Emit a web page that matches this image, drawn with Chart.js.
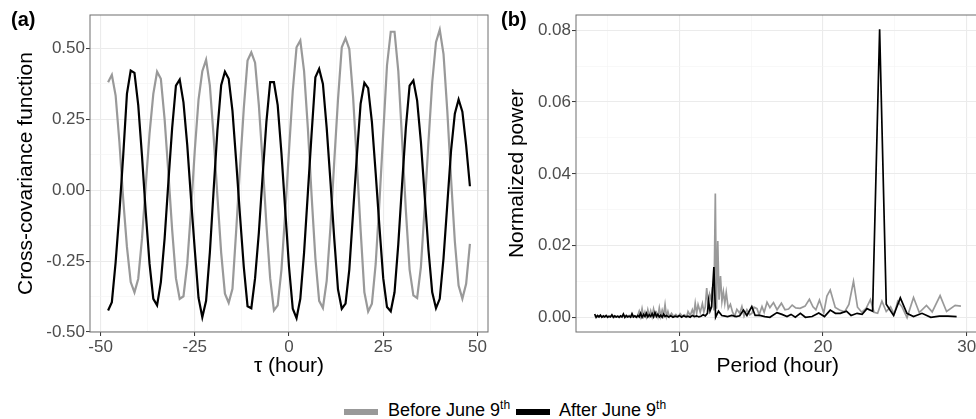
<!DOCTYPE html>
<html>
<head>
<meta charset="utf-8">
<script src="https://cdn.jsdelivr.net/npm/chart.js@4.4.0/dist/chart.umd.min.js"></script>
<style>
  html, body { margin: 0; padding: 0; background: #fff; }
  body { position: relative; width: 976px; height: 419px; overflow: hidden; font-family: "Liberation Sans", Arial, sans-serif; }
  #ccf { position: absolute; left: 0; top: 0; }
  #psd { position: absolute; left: 490px; top: 0; }
  .tag { position: absolute; top: 9px; font-size: 20px; line-height: 20px; font-weight: bold; color: #000; }
  .key { position: absolute; top: 409px; width: 34px; height: 6px; }
  .lab { position: absolute; top: 400px; font-size: 18px; line-height: 20px; color: #000; white-space: nowrap; }
  .lab sup { font-size: 12px; vertical-align: baseline; position: relative; top: -7px; }
</style>
</head>
<body>
<canvas id="ccf" width="490" height="385"></canvas>
<canvas id="psd" width="492" height="385"></canvas>
<div class="tag" style="left:11px">(a)</div>
<div class="tag" style="left:501px">(b)</div>
<div class="key" style="left:344px; background:#999999"></div>
<div class="lab" style="left:388px">Before June 9<sup>th</sup></div>
<div class="key" style="left:516px; background:#000000"></div>
<div class="lab" style="left:559px">After June 9<sup>th</sup></div>

<script>
// --- panel (a): cross-covariance vs lag ---
const lags = [-48, -47, -46, -45, -44, -43, -42, -41, -40, -39, -38, -37, -36, -35, -34, -33, -32, -31, -30, -29,
  -28, -27, -26, -25, -24, -23, -22, -21, -20, -19, -18, -17, -16, -15, -14, -13, -12, -11, -10, -9,
  -8, -7, -6, -5, -4, -3, -2, -1, 0, 1, 2, 3, 4, 5, 6, 7, 8, 9, 10, 11,
  12, 13, 14, 15, 16, 17, 18, 19, 20, 21, 22, 23, 24, 25, 26, 27, 28, 29, 30, 31,
  32, 33, 34, 35, 36, 37, 38, 39, 40, 41, 42, 43, 44, 45, 46, 47, 48];

const ccfBefore = [0.381, 0.407, 0.334, 0.170, -0.030, -0.200, -0.324, -0.360, -0.312, -0.170, 0.020, 0.200, 0.340, 0.418, 0.393, 0.250, 0.060, -0.140, -0.310, -0.383,
  -0.374, -0.260, -0.070, 0.140, 0.320, 0.420, 0.460, 0.370, 0.190, -0.020, -0.220, -0.365, -0.397, -0.348, -0.140, 0.080, 0.288, 0.457, 0.486, 0.450,
  0.300, 0.100, -0.120, -0.310, -0.424, -0.406, -0.280, -0.080, 0.140, 0.350, 0.504, 0.528, 0.420, 0.220, -0.020, -0.240, -0.390, -0.415, -0.320, -0.130,
  0.100, 0.320, 0.504, 0.536, 0.498, 0.330, 0.100, -0.140, -0.360, -0.428, -0.400, -0.260, -0.040, 0.200, 0.440, 0.559, 0.559, 0.420, 0.180, -0.070,
  -0.280, -0.371, -0.380, -0.270, -0.060, 0.170, 0.380, 0.522, 0.566, 0.480, 0.280, 0.040, -0.180, -0.336, -0.383, -0.330, -0.189];

const ccfAfter = [-0.424, -0.395, -0.254, -0.080, 0.120, 0.340, 0.422, 0.414, 0.300, 0.120, -0.080, -0.260, -0.383, -0.406, -0.324, -0.170, 0.030, 0.220, 0.369, 0.390,
  0.310, 0.160, -0.030, -0.210, -0.380, -0.448, -0.390, -0.220, 0.000, 0.210, 0.370, 0.418, 0.393, 0.280, 0.100, -0.090, -0.270, -0.409, -0.416, -0.310,
  -0.150, 0.050, 0.240, 0.381, 0.381, 0.300, 0.130, -0.070, -0.270, -0.418, -0.451, -0.383, -0.220, -0.010, 0.200, 0.398, 0.428, 0.375, 0.220, 0.030,
  -0.170, -0.350, -0.418, -0.400, -0.280, -0.080, 0.120, 0.305, 0.379, 0.360, 0.240, 0.060, -0.130, -0.310, -0.412, -0.427, -0.360, -0.190, 0.020, 0.220,
  0.369, 0.387, 0.316, 0.170, -0.020, -0.210, -0.360, -0.416, -0.383, -0.240, -0.050, 0.140, 0.270, 0.320, 0.277, 0.158, 0.014];

// --- panel (b): normalized power vs period ---
const periodBefore = [4.1, 4.3, 4.5, 4.7, 4.9, 5.1, 5.3, 5.5, 5.7, 5.9, 6.1, 6.3, 6.5, 6.7, 6.9, 7.05, 7.2, 7.3, 7.4, 7.5,
  7.6, 7.7, 7.8, 7.9, 8.0, 8.1, 8.2, 8.3, 8.4, 8.5, 8.6, 8.7, 8.8, 8.9, 9.0, 9.1, 9.2, 9.3, 9.45, 9.6,
  9.75, 9.9, 10.05, 10.2, 10.35, 10.5, 10.6, 10.75, 10.9, 11.0, 11.1, 11.2, 11.3, 11.45, 11.6, 11.7, 11.8, 11.9, 12.0, 12.1,
  12.2, 12.3, 12.4, 12.5, 12.58, 12.67, 12.76, 12.86, 12.96, 13.06, 13.16, 13.26, 13.4, 13.55, 13.7, 13.85, 14.0, 14.2, 14.35, 14.5,
  14.7, 14.9, 15.05, 15.2, 15.4, 15.55, 15.75, 15.9, 16.1, 16.3, 16.55, 16.8, 17.1, 17.35, 17.6, 17.85, 18.1, 18.4, 18.75, 19.05,
  19.3, 19.5, 19.75, 20.05, 20.27, 20.5, 20.85, 21.15, 21.5, 21.8, 22.12, 22.4, 22.7, 23.0, 23.3, 23.55, 23.8, 24.1, 24.4, 24.7,
  24.95, 25.2, 25.5, 25.85, 26.3, 26.7, 27.2, 27.6, 28.15, 28.6, 29.2, 29.6];

const powerBefore = [0.0004, 0.0002, 0.0005, 0.0001, 0.0004, 0.0002, 0.0006, 0.0001, 0.0004, 0.0002, 0.0005, 0.0001, 0.0006, 0.0002, 0.0004, 0.0001, 0.0018, 0.0003, 0.0025, 0.0004,
  0.0016, 0.0002, 0.0022, 0.0005, 0.0019, 0.0003, 0.0024, 0.0006, 0.0014, 0.0002, 0.0027, 0.0004, 0.0021, 0.0007, 0.0036, 0.0003, 0.0017, 0.0002, 0.0012, 0.0003,
  0.0009, 0.0002, 0.0011, 0.0004, 0.0008, 0.0002, 0.0017, 0.0006, 0.0022, 0.0008, 0.0040, 0.0012, 0.0036, 0.0015, 0.0039, 0.0016, 0.0030, 0.0082, 0.0035, 0.0065,
  0.0050, 0.0085, 0.0020, 0.0345, 0.0025, 0.0213, 0.0050, 0.0116, 0.0045, 0.0072, 0.0040, 0.0070, 0.0025, 0.0037, 0.0015, 0.0004, 0.0023, 0.0012, 0.0031, 0.0004,
  0.0022, 0.0008, 0.0012, 0.0029, 0.0025, 0.0008, 0.0031, 0.0015, 0.0043, 0.0028, 0.0042, 0.0022, 0.0040, 0.0022, 0.0024, 0.0035, 0.0027, 0.0026, 0.0032, 0.0051,
  0.0030, 0.0022, 0.0049, 0.0013, 0.0060, 0.0077, 0.0028, 0.0021, 0.0016, 0.0037, 0.0101, 0.0029, 0.0015, 0.0026, 0.0050, 0.0015, 0.0012, 0.0046, 0.0017, 0.0030,
  0.0009, 0.0045, 0.0030, 0.0000, 0.0056, 0.0014, 0.0034, 0.0016, 0.0061, 0.0017, 0.0034, 0.0032];

const periodAfter = [4.1, 4.2, 4.3, 4.4, 4.5, 4.6, 4.7, 4.8, 4.9, 5.0, 5.1, 5.2, 5.3, 5.4, 5.5, 5.6, 5.7, 5.8, 5.9, 6.0,
  6.1, 6.2, 6.3, 6.4, 6.5, 6.6, 6.7, 6.8, 6.9, 7.0, 7.1, 7.2, 7.3, 7.4, 7.5, 7.6, 7.7, 7.8, 7.9, 8.0,
  8.1, 8.2, 8.3, 8.4, 8.5, 8.6, 8.7, 8.8, 8.9, 9.0, 9.1, 9.25, 9.4, 9.55, 9.7, 9.85, 10.0, 10.15, 10.3, 10.45,
  10.6, 10.75, 10.9, 11.05, 11.2, 11.35, 11.5, 11.65, 11.8, 11.95, 12.03, 12.13, 12.24, 12.4, 12.52, 12.72, 12.95, 13.1, 13.35, 13.65,
  13.95, 14.2, 14.46, 14.7, 15.04, 15.27, 15.6, 15.95, 16.3, 16.79, 17.14, 17.49, 17.77, 18.07, 18.42, 18.77, 19.24, 19.7, 20.1, 20.5,
  20.86, 21.2, 21.63, 21.95, 22.37, 22.72, 23.06, 23.45, 23.94, 24.4, 24.91, 25.38, 25.84, 26.3, 26.89, 27.5, 28.1, 28.7, 29.3];

const powerAfter = [0.0010, 0.0001, 0.0006, 0.0002, 0.0007, 0.0001, 0.0005, 0.0002, 0.0006, 0.0001, 0.0004, 0.0002, 0.0008, 0.0001, 0.0005, 0.0002, 0.0004, 0.0001, 0.0005, 0.0002,
  0.0010, 0.0001, 0.0006, 0.0002, 0.0004, 0.0001, 0.0011, 0.0002, 0.0005, 0.0001, 0.0006, 0.0002, 0.0012, 0.0001, 0.0009, 0.0003, 0.0012, 0.0002, 0.0008, 0.0003,
  0.0011, 0.0002, 0.0014, 0.0003, 0.0009, 0.0002, 0.0007, 0.0001, 0.0010, 0.0003, 0.0006, 0.0002, 0.0005, 0.0001, 0.0004, 0.0002, 0.0006, 0.0001, 0.0005, 0.0002,
  0.0004, 0.0001, 0.0006, 0.0003, 0.0005, 0.0002, 0.0004, 0.0008, 0.0005, 0.0012, 0.0046, 0.0018, 0.0030, 0.0141, 0.0001, 0.0018, 0.0006, 0.0005, 0.0003, 0.0006,
  0.0003, 0.0005, 0.0021, 0.0006, 0.0031, 0.0006, 0.0006, 0.0003, 0.0001, 0.0014, 0.0009, 0.0003, 0.0009, 0.0001, 0.0012, 0.0001, 0.0003, 0.0013, 0.0003, 0.0021,
  0.0012, 0.0012, 0.0018, 0.0006, 0.0012, 0.0009, 0.0025, 0.0018, 0.0802, 0.0037, 0.0006, 0.0055, 0.0012, 0.0003, 0.0012, 0.0001, 0.0004, 0.0004, 0.0003];

const xTicksA = [-50, -25, 0, 25, 50];
const yTicksA = [-0.5, -0.25, 0, 0.25, 0.5];
const xTicksB = [10, 20, 30];
const yTicksB = [0, 0.02, 0.04, 0.06, 0.08];

const GREY = '#999999';
const FONT = "'Liberation Sans', Arial, sans-serif";
Chart.defaults.font.family = FONT;

// ggplot-like panel border drawn over the data
const panelBorder = {
  id: 'panelBorder',
  afterDatasetsDraw(chart) {
    const { ctx, chartArea: a } = chart;
    ctx.save();
    ctx.strokeStyle = '#6e6e6e';
    ctx.lineWidth = 1;
    ctx.strokeRect(a.left, a.top, a.right - a.left, a.bottom - a.top);
    ctx.restore();
  }
};

const near = (v, list) => list.some(t => Math.abs(t - v) < 1e-9);

// major ticks get label + tick mark, minor ones only a faint grid line
function axis(majors, step, min, max, fmt, size) {
  return {
    type: 'linear', min: min, max: max,
    border: { display: false },
    grid: {
      color: c => c.tick && near(c.tick.value, majors) ? '#EBEBEB' : '#F4F4F4',
      lineWidth: c => c.tick && near(c.tick.value, majors) ? 1.1 : 0.6,
      tickColor: c => c.tick && near(c.tick.value, majors) ? '#333333' : 'rgba(0,0,0,0)',
      tickLength: 4, tickWidth: 1
    },
    ticks: {
      stepSize: step, includeBounds: false, autoSkip: false, maxRotation: 0,
      color: '#4D4D4D', font: { size: 17 }, padding: 1,
      callback: v => near(v, majors) ? fmt(v) : ''
    },
    afterFit: size
  };
}

function lineSet(label, xs, ys, color, width, order) {
  return {
    label: label,
    data: xs.map((x, i) => ({ x: x, y: ys[i] })),
    borderColor: color, backgroundColor: color, borderWidth: width,
    pointRadius: 0, tension: 0, fill: false, order: order
  };
}

const common = {
  responsive: false, animation: false, devicePixelRatio: 1,
  plugins: { legend: { display: false }, tooltip: { enabled: false } }
};

new Chart(document.getElementById('ccf'), {
  type: 'line',
  data: {
    datasets: [
      lineSet('Before June 9th', lags, ccfBefore, GREY, 2.2, 1),
      lineSet('After June 9th', lags, ccfAfter, '#000000', 2.2, 0)
    ]
  },
  options: Object.assign({}, common, {
    layout: { padding: { top: 15, right: 2, bottom: 0, left: 0 } },
    scales: {
      x: Object.assign(axis(xTicksA, 12.5, -52.8, 52.8, v => String(v), s => { s.height = 53; }), {
        title: { display: true, text: 'τ (hour)', color: '#000', font: { size: 21 }, padding: { top: 0, bottom: 6 } }
      }),
      y: Object.assign(axis(yTicksA, 0.125, -0.5, 0.618, v => v.toFixed(2), s => { s.width = 90; }), {
        title: { display: true, text: 'Cross-covariance function', color: '#000', font: { size: 21 }, padding: { top: 14, bottom: 0 } }
      })
    }
  }),
  plugins: [panelBorder]
});

new Chart(document.getElementById('psd'), {
  type: 'line',
  data: {
    datasets: [
      lineSet('Before June 9th', periodBefore, powerBefore, GREY, 1.7, 1),
      lineSet('After June 9th', periodAfter, powerAfter, '#000000', 1.7, 0)
    ]
  },
  options: Object.assign({}, common, {
    layout: { padding: { top: 15, right: 2.4, bottom: 0, left: 0 } },
    scales: {
      x: Object.assign(axis(xTicksB, 5, 2.8, 30.9, v => String(v), s => { s.height = 53; }), {
        title: { display: true, text: 'Period (hour)', color: '#000', font: { size: 21 }, padding: { top: 0, bottom: 6 } }
      }),
      y: Object.assign(axis(yTicksB, 0.01, -0.004, 0.0842, v => v.toFixed(2), s => { s.width = 86; }), {
        title: { display: true, text: 'Normalized power', color: '#000', font: { size: 21 }, padding: { top: 15, bottom: 0 } }
      })
    }
  }),
  plugins: [panelBorder]
});
</script>
</body>
</html>
